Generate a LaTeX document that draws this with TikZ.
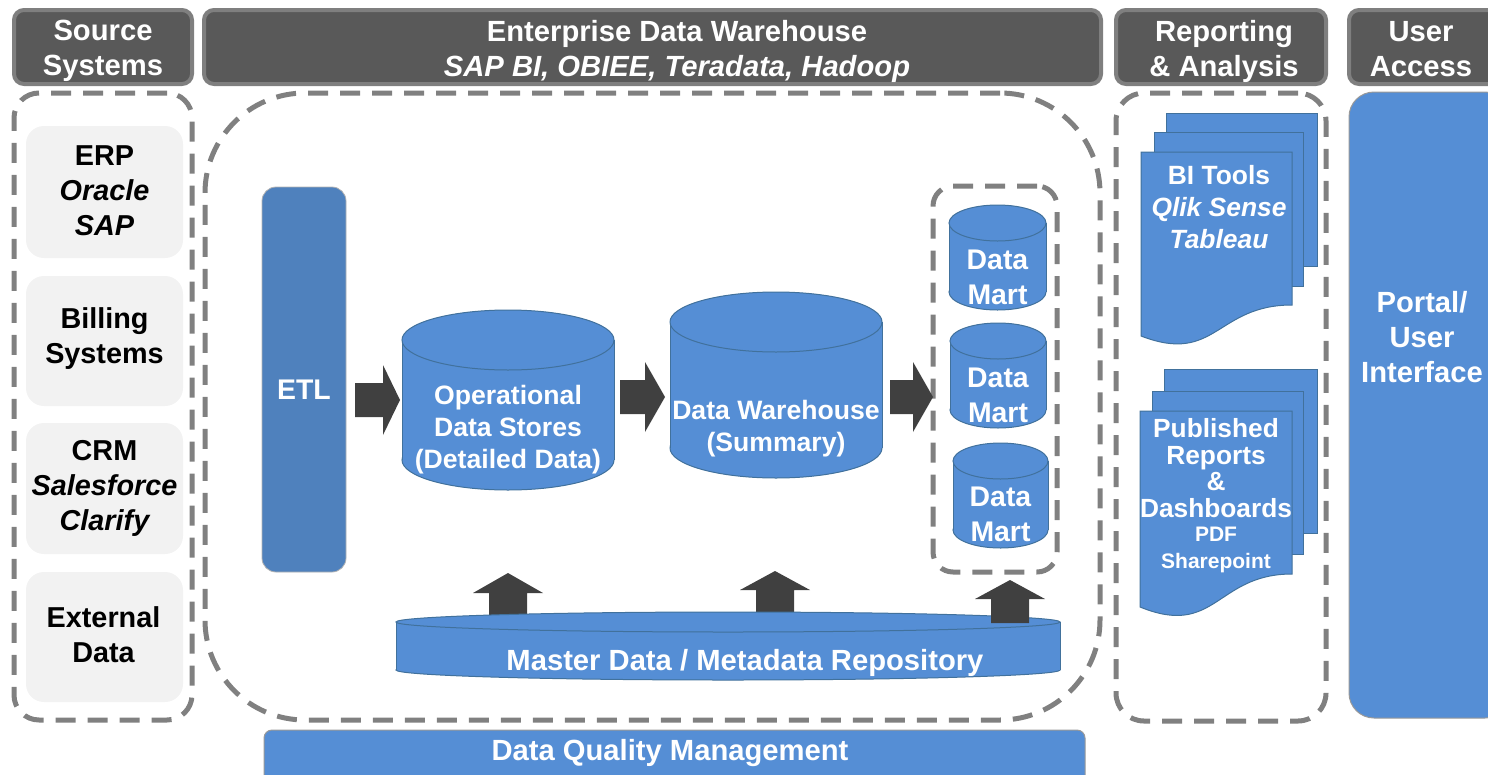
\documentclass[tikz,border=0pt]{standalone}
\usepackage{fontspec}
\setmainfont{Liberation Sans}
\usetikzlibrary{calc}
\definecolor{hdrfill}{HTML}{595959}
\definecolor{hdrline}{HTML}{7F7F7F}
\definecolor{dashc}{HTML}{808080}
\definecolor{blu}{HTML}{558ED5}
\definecolor{etlblu}{HTML}{4F81BD}
\definecolor{bluline}{HTML}{41719C}
\definecolor{srcfill}{HTML}{F2F2F2}
\definecolor{arrc}{HTML}{404040}
\tikzset{
  hdr/.style={fill=hdrfill, draw=hdrline, line width=4pt, rounded corners=10pt, inner sep=0pt},
  dashbox/.style={draw=dashc, line width=5pt, dash pattern=on 20pt off 12pt, inner sep=0pt},
  srcbox/.style={fill=srcfill, rounded corners=18pt, inner sep=0pt},
  bluebox/.style={fill=blu, draw=hdrline!80, line width=1pt, inner sep=0pt},
  cylfill/.style={fill=blu},
  cylline/.style={draw=bluline, line width=1pt},
  pagestyle/.style={fill=blu, draw=bluline, line width=1pt},
  blockarrow/.style={fill=arrc},
  wtxt/.style={text=white, font=\bfseries\fontsize{29.2}{35}\selectfont, align=center, inner sep=0pt},
  btxt/.style={text=black, font=\bfseries\fontsize{28.8}{35}\selectfont, align=center},
  ctxt/.style={text=white, font=\bfseries\fontsize{26.6}{32}\selectfont, align=center, inner sep=0pt},
  dtxt/.style={text=white, font=\bfseries\fontsize{28.4}{35}\selectfont, align=center, inner sep=0pt},
}
% cylinder: name, cx, rx, top-centre y, bottom-centre y, ry
\newcommand\dbcyl[6]{%
  \filldraw[cylfill,cylline] (#2,#5) ellipse [x radius=#3, y radius=#6];
  \fill[cylfill] ({#2-#3},#4) rectangle ({#2+#3},#5);
  \draw[cylline] ({#2-#3},#4) -- ({#2-#3},#5) ({#2+#3},#4) -- ({#2+#3},#5);
  \filldraw[cylfill,cylline] (#2,#4) ellipse [x radius=#3, y radius=#6];
  \node[inner sep=0pt, minimum width={2*#3}, minimum height={#5-#4+2*#6}] (#1) at (#2,{(#4+#5)/2}) {};
}
% right block arrow: x start, x head base, x tip, y centre
\newcommand\rarr[4]{%
  \fill[blockarrow] (#1,{#4-17}) -- (#2,{#4-17}) -- (#2,{#4-35}) -- (#3,#4) -- (#2,{#4+35}) -- (#2,{#4+17}) -- (#1,{#4+17}) -- cycle;
}
% up block arrow: x centre, y tip, y head base, y bottom
\newcommand\uarr[4]{%
  \fill[blockarrow] ({#1-19},#4) -- ({#1-19},#3) -- ({#1-35},#3) -- (#1,#2) -- ({#1+35},#3) -- ({#1+19},#3) -- ({#1+19},#4) -- cycle;
}
\begin{document}
\begin{tikzpicture}[x=1pt,y=-1pt]
\useasboundingbox (0,0) rectangle (1488,774);
\clip (0,0) rectangle (1488,774);

% headers
\node[hdr, minimum width=178, minimum height=74] (hsrc) at (103,47) {};
\node[wtxt] (hsrct) at (103,50.5) {Source\\Systems};
\node[hdr, minimum width=897, minimum height=74] (hedw) at (652.5,47) {};
\node[wtxt] (hedwt) at (677,51) {Enterprise Data Warehouse\\\itshape SAP BI, OBIEE, Teradata, Hadoop};
\node[hdr, minimum width=210, minimum height=74] (hrep) at (1221,47) {};
\node[wtxt] (hrept) at (1224,51) {Reporting\\\& Analysis};
\node[hdr, minimum width=161, minimum height=74] (husr) at (1429.5,47) {};
\node[wtxt] (husrt) at (1421,49.5) {User\\Access};

% dashed containers
\node[dashbox, rounded corners=25pt, minimum width=178, minimum height=627] (csrc) at (103,406.5) {};
\node[dashbox, rounded corners=100pt, minimum width=895, minimum height=627] (cedw) at (652.5,406.5) {};
\node[dashbox, rounded corners=28pt, minimum width=210, minimum height=628] (crep) at (1221,407) {};
\node[dashbox, rounded corners=20pt, minimum width=124, minimum height=386] (cmart) at (995,379) {};

% source systems
\node[srcbox, minimum width=157, minimum height=132] (erp) at (104.5,192) {};
\node[btxt] (erpt) at (104.5,191) {ERP\\\itshape Oracle\\\itshape SAP};
\node[srcbox, minimum width=157, minimum height=130] (bill) at (104.5,341) {};
\node[btxt] (billt) at (104.5,339) {Billing\\Systems};
\node[srcbox, minimum width=157, minimum height=131] (crm) at (104.5,488.5) {};
\node[btxt] (crmt) at (104.5,488) {CRM\\\itshape Salesforce\\\itshape Clarify};
\node[srcbox, minimum width=157, minimum height=130] (ext) at (104.5,637) {};
\node[btxt] (extt) at (103.5,635) {External\\Data};

% ETL
\node[fill=etlblu, draw=hdrline!60, line width=0.8pt, rounded corners=14pt, minimum width=84, minimum height=385] (etl) at (304,379.5) {};
\node[dtxt] (etlt) at (304,390) {ETL};

% up arrows behind master repository
\uarr{508}{573}{593}{620}
\uarr{775}{571}{590}{615}

% cylinders
\dbcyl{ods}{508}{106}{340}{460}{30}
\node[ctxt] (odst) at (508,430) {Operational\\Data Stores\\(Detailed Data)};
\dbcyl{dw}{776}{106}{322}{448}{30}
\node[ctxt] (dwt) at (776,429) {Data Warehouse\\(Summary)};
\dbcyl{dm1}{997.5}{48.5}{223}{292}{18}
\node[dtxt] (dm1t) at (997.5,277) {Data\\Mart};
\dbcyl{dm2}{998}{48}{341}{410}{18}
\node[dtxt] (dm2t) at (998,395) {Data\\Mart};
\dbcyl{dm3}{1000.5}{47.5}{461}{530}{18}
\node[dtxt] (dm3t) at (1000.5,514) {Data\\Mart};
\dbcyl{mdr}{728}{332}{622}{670}{10}
\node[wtxt] (mdrt) at (745,663) {Master Data / Metadata Repository};

\uarr{1010}{580}{599}{623}

% right arrows
\rarr{355}{383}{400}{400}
\rarr{620}{645}{665}{397}
\rarr{890}{913}{933}{397}

% data quality bar
\node[bluebox, rounded corners=8pt, minimum width=821, minimum height=70] (dqm) at (674.5,765) {};
\node[wtxt] (dqmt) at (670,753) {Data Quality Management};

% BI tools stack
\filldraw[pagestyle] (1166,113) rectangle (1317,266);
\filldraw[pagestyle] (1154,132) rectangle (1303,286);
\filldraw[pagestyle] (1141,152) -- (1292,152) -- (1292,305) .. controls (1216,305) and (1216,365) .. (1141,336) -- cycle;
\node[text=white, font=\bfseries\fontsize{26.4}{32}\selectfont, align=center, inner sep=0pt] (bit) at (1219,207) {BI Tools\\\itshape Qlik Sense\\\itshape Tableau};

% published reports stack
\filldraw[pagestyle] (1164,369) rectangle (1317,533);
\filldraw[pagestyle] (1152,391) rectangle (1303,554);
\filldraw[pagestyle] (1140,411) -- (1292,411) -- (1292,574) .. controls (1216,574) and (1216,638) .. (1140,607) -- cycle;
\node[text=white, font=\bfseries\fontsize{26.3}{26.7}\selectfont, align=center, inner sep=0pt] (pubt) at (1216,468) {Published\\Reports\\\&\\Dashboards};
\node[text=white, font=\bfseries\fontsize{21}{27}\selectfont, align=center, inner sep=0pt] (pubs) at (1216,550) {PDF\\Sharepoint};

% portal
\node[bluebox, rounded corners=25pt, minimum width=161, minimum height=626] (portal) at (1429.5,405) {};
\node[wtxt] (portalt) at (1422,337) {Portal/\\User\\Interface};
\end{tikzpicture}
\end{document}
